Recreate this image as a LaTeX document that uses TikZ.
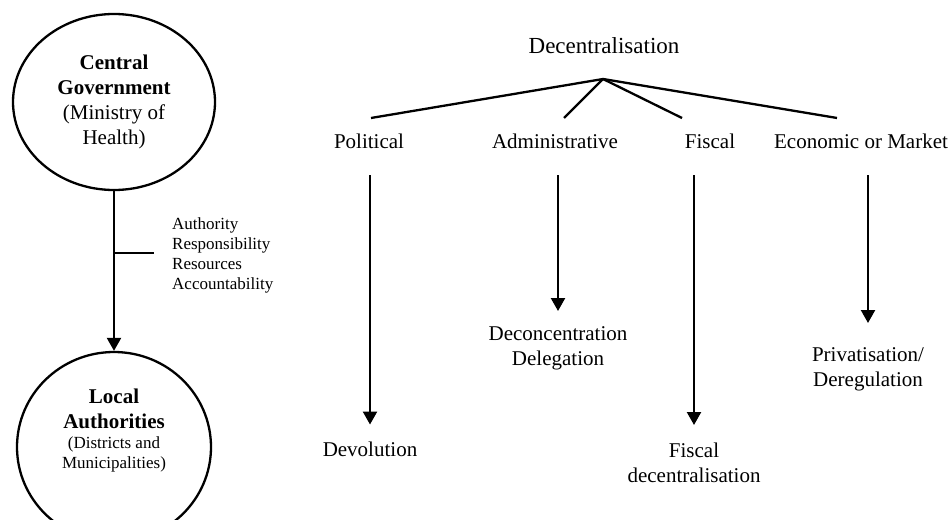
\documentclass[tikz,border=0pt]{standalone}
\usepackage{fontspec}
\setmainfont{Liberation Serif}
\usetikzlibrary{arrows.meta,shapes.geometric}

\tikzset{
  big/.style={font=\fontsize{21}{25}\selectfont, inner sep=0pt, align=center},
  smalltext/.style={font=\fontsize{17}{20}\selectfont, inner sep=0pt, align=left},
  org/.style={draw, ellipse, line width=2.3pt, inner sep=0pt},
  branch/.style={line width=2.3pt},
  down/.style={line width=2.3pt, -{Triangle[width=14pt,length=13pt]}, shorten <=27pt},
}

\begin{document}
\begin{tikzpicture}[x=1pt,y=-1pt]
    \useasboundingbox (0,0) rectangle (952,519);
    \clip (0,0) rectangle (952,519);

    % left side
    \node[org, big, minimum width=202pt, minimum height=176pt] at (114,102) (cg) {\textbf{Central}\\\textbf{Government}\\(Ministry of\\Health)};
    \node[org, minimum width=194pt, minimum height=190pt] at (114,447) (la) {};
    \node[big, anchor=north] at (114,389) (latext) {\textbf{Local}\\\textbf{Authorities}\\[-5pt]\fontsize{17}{20}\selectfont(Districts and\\[-5pt]\fontsize{17}{20}\selectfont Municipalities)};
    \node[smalltext, anchor=north west] at (172,217.4) (flow) {Authority\\Responsibility\\Resources\\Accountability};
    \coordinate (tick) at (154,253);

    % right side
    \node[font=\fontsize{23}{27}\selectfont, inner sep=0pt, anchor=base] at (604,54) (dec) {Decentralisation};
    \coordinate (hub) at (603,79);
    \coordinate (polend) at (371,118);
    \coordinate (admend) at (564,118);
    \coordinate (fisend) at (682,118);
    \coordinate (ecoend) at (837,118);
    \node[big, anchor=base] at (369,148) (pol) {Political};
    \node[big, anchor=base] at (555,148) (adm) {Administrative};
    \node[big, anchor=base] at (710,148) (fis) {Fiscal};
    \node[big, anchor=base] at (861,148) (eco) {Economic or Market};
    \node[big, anchor=base] at (370,456) (devo) {Devolution};
    \node[big, anchor=north] at (558,326.7) (deco) {Deconcentration\\Delegation};
    \node[big, anchor=north] at (694,442.7) (fisd) {Fiscal\\decentralisation};
    \node[big, anchor=north] at (868,347.7) (priv) {Privatisation/\\Deregulation};

    % paths
    \draw[down, shorten <=0pt] (cg) -- (la); % Central -> Local
    \draw[branch] (tick -| cg.south) -- (tick); % side tick

    \draw[branch] (hub) -- (polend); % Decentralisation -> Political
    \draw[branch] (hub) -- (admend); % Decentralisation -> Administrative
    \draw[branch] (hub) -- (fisend); % Decentralisation -> Fiscal
    \draw[branch] (hub) -- (ecoend); % Decentralisation -> Economic

    \draw[down, shorten >=16.7pt] (devo.north |- pol.south) -- (devo.north); % Political -> Devolution
    \draw[down, shorten >=15.7pt] (deco.north |- adm.south) -- (deco.north); % Administrative -> Deconcentration
    \draw[down, shorten >=17.7pt] (fisd.north |- fis.south) -- (fisd.north); % Fiscal -> Fiscal decentralisation
    \draw[down, shorten >=24.7pt] (priv.north |- eco.south) -- (priv.north); % Economic -> Privatisation

\end{tikzpicture}
\end{document}
